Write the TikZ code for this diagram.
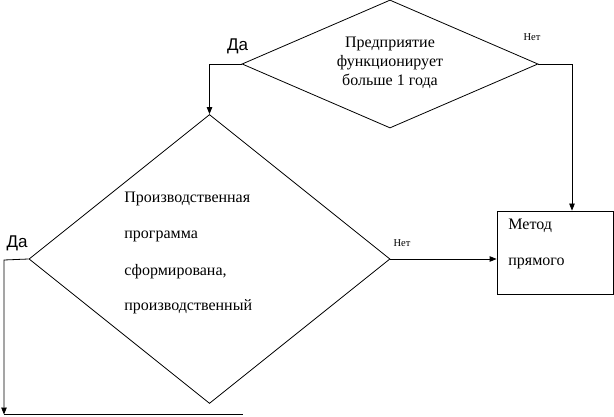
\documentclass[tikz,border=0pt]{standalone}
\usepackage{fontspec}
\setmainfont{Liberation Serif}
\newfontfamily\arialfont{Liberation Sans}
\usetikzlibrary{shapes.geometric,arrows.meta,calc}
\begin{document}
\begin{tikzpicture}[x=1pt,y=-1pt,
  line width=0.8pt,
  dia/.style={draw,diamond,inner sep=0pt,aspect=1},
  rbox/.style={draw,rectangle,inner sep=0pt},
  arr/.style={-{Triangle[length=7pt,width=5.5pt]}},
  txt/.style={font=\fontsize{16}{19}\selectfont,inner sep=0pt},
  yes/.style={font=\arialfont\fontsize{17}{19}\selectfont,inner sep=0pt},
  no/.style={font=\fontsize{10.5}{12}\selectfont,inner sep=0pt}]
\useasboundingbox (0,0) rectangle (614,417);
% shapes
\node[dia,minimum width=296pt,minimum height=128pt] (d1) at (390,64) {};
\node[dia,minimum width=361pt,minimum height=289pt] (d2) at (209.5,259) {};
\node[rbox,minimum width=116pt,minimum height=83pt] (box) at (555,252.5) {};
% texts
\node[txt,align=center,font=\fontsize{16}{19}\selectfont] (t1) at (390,63) {Предприятие\\функционирует\\больше 1 года};
\node[txt,anchor=west] (t2a) at (124,199) {Производственная};
\node[txt,anchor=west] (t2b) at (124,236) {программа};
\node[txt,anchor=west] (t2c) at (124,272) {сформирована,};
\node[txt,anchor=west] (t2d) at (124,307) {производственный};
\node[txt,anchor=west] (t3a) at (508,226) {Метод};
\node[txt,anchor=west] (t3b) at (508,263) {прямого};
\node[yes] (y1) at (237.5,46) {Да};
\node[yes] (y2) at (17,243) {Да};
\node[no] (n1) at (532,37) {Нет};
\node[no] (n2) at (402,243) {Нет};
% connectors
\coordinate (c2) at (572,64);
\coordinate (c3) at (4,260);
\coordinate (c4) at (4,414.5);
\coordinate (c5) at (243,414.5);
\draw[arr] (d1.west) -| (d2.north);
\draw[arr] (d1.east) -- (c2) -- (c2 |- box.north);
\draw[arr] (d2.east) -- (box.west |- d2.east);
\draw[arr] (d2.west) -- (c3) -- (c4);
\draw (c4) -- (c5);
\end{tikzpicture}
\end{document}
